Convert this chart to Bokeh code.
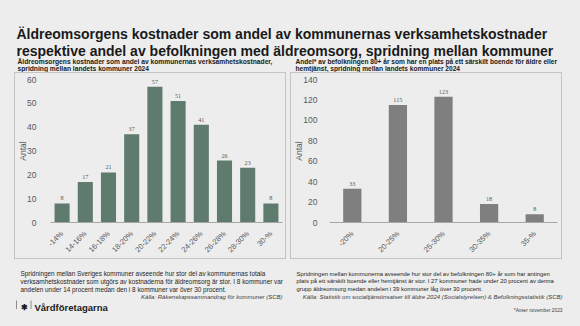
import math
from bokeh.plotting import figure
from bokeh.models import (Range1d, FactorRange, ColumnDataSource, LabelSet, Label,
                          SingleIntervalTicker, Spacer)
from bokeh.layouts import column, row
from bokeh.embed import file_html
from bokeh.resources import INLINE

# ---------------- data ----------------
left_categories = ["-14%", "14-16%", "16-18%", "18-20%", "20-22%",
                   "22-24%", "24-26%", "26-28%", "28-30%", "30-%"]
left_values = [8, 17, 21, 37, 57, 51, 41, 26, 23, 8]

right_categories = ["-20%", "20-25%", "25-30%", "30-35%", "35-%"]
right_values = [33, 115, 123, 18, 8]

title_lines = ["Äldreomsorgens kostnader som andel av kommunernas verksamhetskostnader",
               "respektive andel av befolkningen med äldreomsorg, spridning mellan kommuner"]
left_subtitle = ["Äldreomsorgens kostnader som andel av kommunernas verksamhetskostnader,",
                 "spridning mellan landets kommuner 2024"]
right_subtitle = ["Andel* av befolkningen 80+ år som har en plats på ett särskilt boende för äldre eller",
                  "hemtjänst, spridning mellan landets kommuner 2024"]
left_note = ["Spridningen mellan Sveriges kommuner avseende hur stor del av kommunernas totala",
             "verksamhetskostnader som utgörs av kostnaderna för äldreomsorg är stor. I 8 kommuner var",
             "andelen under 14 procent medan den i 8 kommuner var över 30 procent."]
left_source = "Källa: Räkenskapssammandrag för kommuner (SCB)"
right_note = ["Spridningen mellan kommunerna avseende hur stor del av befolkningen 80+ år som har antingen",
              "plats på ett särskilt boende eller hemtjänst är stor. I 27 kommuner hade under 20 procent av denna",
              "grupp äldreomsorg medan andelen i 39 kommuner låg över 30 procent."]
right_source = "Källa: Statistik om socialtjänstinsatser till äldre 2024 (Socialstyrelsen) & Befolkningsstatistik (SCB)"
footnote = "*Avser november 2023"
brand = "Vårdföretagarna"
y_label = "Antal"

# ---------------- style ----------------
BG = "#EDEDED"
FONT = "Liberation Sans"
GREY_TXT = "#595959"
LEFT_COLOR = "#5F7B6D"
RIGHT_COLOR = "#7F7F7F"
PANEL_BORDER = "#C4C4C4"


def blank(width, height):
    p = figure(width=width, height=height, x_range=Range1d(0, width), y_range=Range1d(height, 0),
               x_axis_location=None, y_axis_location=None, min_border=0,
               toolbar_location=None, output_backend="svg",
               background_fill_color=BG, border_fill_color=BG, outline_line_color=None)
    p.grid.grid_line_color = None
    return p


def txt(p, x, y, t, size, style="normal", color="#1A1A1A", align="left"):
    p.add_layout(Label(x=x, y=y, text=t, text_font=FONT, text_font_size=size,
                       text_font_style=style, text_color=color, text_align=align,
                       text_baseline="alphabetic"))


# header: abs y 0..72
header = blank(580, 72)
txt(header, 16, 33, title_lines[0], "14px", "bold")
txt(header, 16, 50, title_lines[1], "14px", "bold")
txt(header, 17, 60.5, left_subtitle[0], "6.7px", "bold")
txt(header, 17, 68, left_subtitle[1], "6.7px", "bold")
txt(header, 295, 60.5, right_subtitle[0], "6.6px", "bold")
txt(header, 295, 68, right_subtitle[1], "6.6px", "bold")


def chart(cats, vals, ymax, interval, color, bar_w, mbl, mbr, standoff):
    p = figure(width=272, height=187, x_range=FactorRange(*cats), y_range=Range1d(0, ymax),
               toolbar_location=None, output_backend="svg",
               min_border_left=mbl, min_border_right=mbr, min_border_top=6, min_border_bottom=33,
               background_fill_color=BG, border_fill_color=BG, outline_line_color=None)
    p.x_range.range_padding = 0
    p.grid.grid_line_color = None
    src = ColumnDataSource(dict(cat=cats, val=vals, lab=[str(v) for v in vals]))
    p.vbar(x="cat", top="val", width=bar_w, source=src, fill_color=color, line_color=None)
    p.add_layout(LabelSet(x="cat", y="val", text="lab", source=src, y_offset=3,
                          text_align="center", text_baseline="bottom",
                          text_font=FONT, text_font_size="6.2px", text_color=GREY_TXT))
    # y axis
    ya = p.yaxis[0]
    ya.ticker = SingleIntervalTicker(interval=interval)
    ya.axis_line_color = None
    ya.major_tick_line_color = None
    ya.minor_tick_line_color = None
    ya.major_label_standoff = standoff
    ya.major_label_text_font = FONT
    ya.major_label_text_font_size = "8.5px"
    ya.major_label_text_color = GREY_TXT
    ya.axis_label = y_label
    ya.axis_label_standoff = -4
    ya.axis_label_text_font = FONT
    ya.axis_label_text_font_size = "8.5px"
    ya.axis_label_text_font_style = "normal"
    ya.axis_label_text_color = GREY_TXT
    # x axis
    xa = p.xaxis[0]
    xa.axis_line_color = "#A6A6A6"
    xa.major_tick_line_color = None
    xa.minor_tick_line_color = None
    xa.major_label_orientation = math.pi / 4
    xa.major_label_standoff = 4
    xa.major_label_text_font = FONT
    xa.major_label_text_font_size = "7.6px"
    xa.major_label_text_color = GREY_TXT
    p.styles = {"border": "1px solid " + PANEL_BORDER}
    return p


left = chart(left_categories, left_values, 60, 10, LEFT_COLOR, 0.65, 35, 5, 8)
right = chart(right_categories, right_values, 140, 20, RIGHT_COLOR, 0.4, 38, 6, 6)

# footer: abs y 261..326
footer = blank(580, 65)
for i, line in enumerate(left_note):
    txt(footer, 20, 12 + i * 7.8, line, "6.4px", color="#262626")
for i, line in enumerate(right_note):
    txt(footer, 296, 12 + i * 7.8, line, "5.9px", color="#262626")
txt(footer, 282, 35.5, left_source, "6.0px", "italic", "#404040", "right")
txt(footer, 562, 35.5, right_source, "6.0px", "italic", "#404040", "right")
txt(footer, 562, 49, footnote, "4.8px", color="#404040", align="right")
footer.segment(x0=[16, 30.5], y0=[39, 39], x1=[16, 30.5], y1=[47.5, 47.5], line_color="#8C8C8C", line_width=1)
txt(footer, 23.5, 46, "✱", "8px", "bold", "#1A1A1A", "center")
txt(footer, 34, 45.5, brand, "9.5px", "bold", "#1A1A1A")

layout = column(
    header,
    row(Spacer(width=14, height=189), left, Spacer(width=4, height=189), right,
        Spacer(width=14, height=189), styles={"background-color": BG}),
    footer,
    styles={"background-color": BG},
)

open("out.html", "w").write(file_html(layout, INLINE))
